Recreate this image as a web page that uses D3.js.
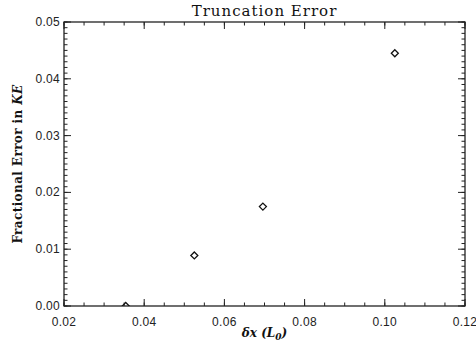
<!DOCTYPE html>
<html>
<head>
<meta charset="utf-8">
<script src="https://cdn.jsdelivr.net/npm/d3@7"></script>
<style>
  body { margin: 0; background: #fff; }
  .tick-label { font-family: "Liberation Sans", Arial, sans-serif; font-size: 12px; fill: #222; letter-spacing: 0.3px; }
</style>
</head>
<body>
<div id="chart"></div>
<script>
// grid spacing dx and the fractional error in kinetic energy
var dxValues = [0.0354, 0.0525, 0.0696, 0.1025];
var errValues = [0.0, 0.0089, 0.0175, 0.0445];
var xTicks = [0.02, 0.04, 0.06, 0.08, 0.10, 0.12];
var yTicks = [0.00, 0.01, 0.02, 0.03, 0.04, 0.05];

var margin = { top: 22, right: 11, bottom: 43, left: 64 };
var totalW = 476, totalH = 349;
var width = totalW - margin.left - margin.right;
var height = totalH - margin.top - margin.bottom;

var svg = d3.select("#chart").append("svg")
    .attr("width", totalW)
    .attr("height", totalH);

var g = svg.append("g")
    .attr("transform", "translate(" + margin.left + "," + margin.top + ")");

var x = d3.scaleLinear().domain([0.02, 0.12]).range([0, width]);
var y = d3.scaleLinear().domain([0, 0.05]).range([height, 0]);

var xMinor = d3.range(0.02, 0.1201, 0.005);
var yMinor = d3.range(0, 0.05001, 0.001);
var major = 7, minor = 3.5;
var axisColor = "#222";

// inward ticks on all four sides
function addTicks(values, len) {
    values.forEach(function(v) {
        g.append("line").attr("x1", x(v)).attr("x2", x(v))
            .attr("y1", height).attr("y2", height - len)
            .attr("stroke", axisColor);
        g.append("line").attr("x1", x(v)).attr("x2", x(v))
            .attr("y1", 0).attr("y2", len)
            .attr("stroke", axisColor);
    });
}
addTicks(xMinor, minor);
addTicks(xTicks, major);

function addYTicks(values, len) {
    values.forEach(function(v) {
        g.append("line").attr("x1", 0).attr("x2", len)
            .attr("y1", y(v)).attr("y2", y(v))
            .attr("stroke", axisColor);
        g.append("line").attr("x1", width).attr("x2", width - len)
            .attr("y1", y(v)).attr("y2", y(v))
            .attr("stroke", axisColor);
    });
}
addYTicks(yMinor, minor);
addYTicks(yTicks, major);

g.append("rect")
    .attr("width", width).attr("height", height)
    .attr("fill", "none")
    .attr("stroke", axisColor)
    .attr("stroke-width", 1.3);

// tick labels
g.selectAll(".xlab").data(xTicks).enter().append("text")
    .attr("class", "tick-label")
    .attr("x", function(d) { return x(d); })
    .attr("y", height + 20)
    .attr("text-anchor", "middle")
    .text(function(d) { return d.toFixed(2); });

g.selectAll(".ylab").data(yTicks).enter().append("text")
    .attr("class", "tick-label")
    .attr("x", -4)
    .attr("y", function(d) { return y(d) + 4; })
    .attr("text-anchor", "end")
    .text(function(d) { return d.toFixed(2); });

// data markers, clipped to the plot box
g.append("clipPath").attr("id", "clip")
    .append("rect").attr("width", width).attr("height", height);

var pts = dxValues.map(function(d, i) { return { dx: d, err: errValues[i] }; });
g.append("g").attr("clip-path", "url(#clip)")
    .selectAll("path").data(pts).enter().append("path")
    .attr("d", "M0,-3.5L3.5,0L0,3.5L-3.5,0Z")
    .attr("transform", function(d) { return "translate(" + x(d.dx) + "," + y(d.err) + ")"; })
    .attr("fill", "none")
    .attr("stroke", "#111")
    .attr("stroke-width", 1.3);

// title and axis labels
svg.append("text")
    .attr("x", margin.left + width / 2)
    .attr("y", 16)
    .attr("text-anchor", "middle")
    .style("font-family", "'DejaVu Serif', serif")
    .style("font-size", "15px")
    .style("letter-spacing", "1px")
    .attr("fill", "#111")
    .text("Truncation Error");

var xl = svg.append("text")
    .attr("x", margin.left + width / 2)
    .attr("y", 337)
    .attr("text-anchor", "middle")
    .style("font-family", "'DejaVu Serif', serif")
    .style("font-size", "12px")
    .style("font-style", "italic")
    .style("font-weight", "bold")
    .attr("fill", "#111");
xl.append("tspan").text("δx (L");
xl.append("tspan").attr("dy", 3).style("font-size", "9px").text("0");
xl.append("tspan").attr("dy", -3).text(")");

var yl = svg.append("text")
    .attr("transform", "translate(22," + (margin.top + height / 2) + ") rotate(-90)")
    .attr("text-anchor", "middle")
    .style("font-family", "'DejaVu Serif', serif")
    .style("font-size", "12px")
    .style("font-weight", "bold")
    .style("letter-spacing", "0.4px")
    .attr("fill", "#111");
yl.append("tspan").text("Fractional Error in ");
yl.append("tspan").style("font-style", "italic").text("KE");
</script>
</body>
</html>
